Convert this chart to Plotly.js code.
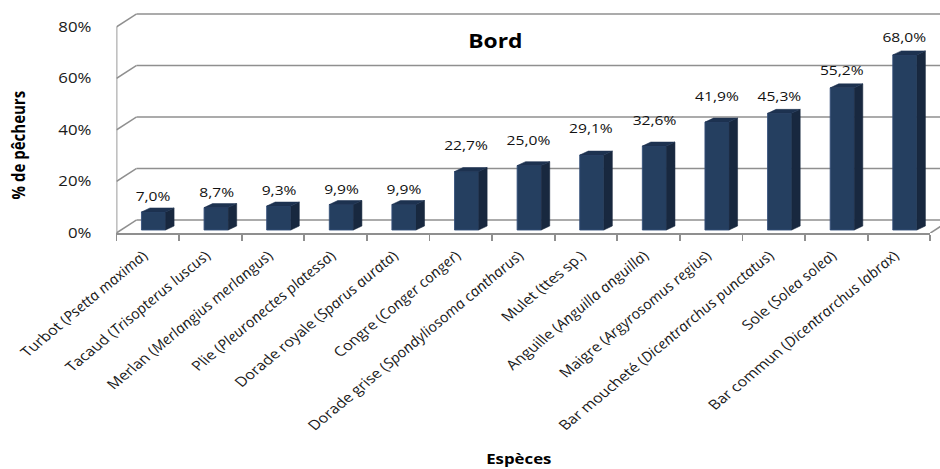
<!DOCTYPE html>
<html>
<head>
<meta charset="utf-8">
<script src="https://cdn.plot.ly/plotly-3.0.1.min.js"></script>
<style>
  html, body { margin: 0; padding: 0; background: #ffffff; overflow: hidden; }
  #chart { width: 783px; height: 469px; transform: scaleX(1.2005); transform-origin: 0 0; }
</style>
</head>
<body>
<div id="chart"></div>
<script>
// ---------- data ----------
const commonNames = ['Turbot', 'Tacaud', 'Merlan', 'Plie', 'Dorade royale', 'Congre',
  'Dorade grise', 'Mulet', 'Anguille', 'Maigre', 'Bar moucheté', 'Sole', 'Bar commun'];
const latinNames = ['Psetta maxima', 'Trisopterus luscus', 'Merlangius merlangus',
  'Pleuronectes platessa', 'Sparus aurata', 'Conger conger', 'Spondyliosoma cantharus',
  'ttes sp.', 'Anguilla anguilla', 'Argyrosomus regius', 'Dicentrarchus punctatus',
  'Solea solea', 'Dicentrarchus labrax'];
const values = [7.0, 8.7, 9.3, 9.9, 9.9, 22.7, 25.0, 29.1, 32.6, 41.9, 45.3, 55.2, 68.0];
const yTickVals = [0, 20, 40, 60, 80];
const yTickText = ['0%', '20%', '40%', '60%', '80%'];

// ---------- style (3D look, label lifts in px) ----------
const labelLift = [16, 16, 16, 16, 16, 27, 26, 27, 26, 26, 17, 18, 18];
const barOffset = 0.092, barWidth = 0.385, barBase = 1.165;
const depthX = 0.136, depthY = 1.55;      // bar depth
const wallX = 0.3195, wallY = 5.05;       // back wall offset
const nCat = values.length;
const gridColor = '#8f8f8f';
const FONT = 'Open Sans, sans-serif';

const idx = values.map((_, i) => i);
const tickText = commonNames.map((c, i) =>
  latinNames[i] === 'ttes sp.' ? c + ' (' + latinNames[i] + ')' : c + ' (<i>' + latinNames[i] + '</i>)');

// front faces
const frontFaces = {
  type: 'bar', x: idx.map(i => i + barOffset), y: values, base: barBase, width: barWidth,
  marker: { color: '#253f60', line: { width: 0.8, color: '#34507a' } },
  hoverinfo: 'skip', showlegend: false
};
// side and top faces derived from values
const sx = [], sy = [], tx = [], ty = [];
values.forEach((v, i) => {
  const xl = i + barOffset - barWidth / 2, xr = i + barOffset + barWidth / 2;
  const b = barBase, t = barBase + v;
  sx.push(xr, xr + depthX, xr + depthX, xr, xr, null);
  sy.push(b, b + depthY, t + depthY, t, b, null);
  tx.push(xl, xl + depthX, xr + depthX, xr, xl, null);
  ty.push(t, t + depthY, t + depthY, t, t, null);
});
const sideFaces = { type: 'scatter', mode: 'lines', x: sx, y: sy, fill: 'toself', fillcolor: '#18283f',
  line: { width: 0.5, color: '#18283f' }, hoverinfo: 'skip', showlegend: false };
const topFaces = { type: 'scatter', mode: 'lines', x: tx, y: ty, fill: 'toself', fillcolor: '#1d3250',
  line: { width: 0.5, color: '#1d3250' }, hoverinfo: 'skip', showlegend: false };

// wall / grid shapes
const shapes = [];
yTickVals.forEach(g => {
  shapes.push({ type: 'line', layer: 'below', xref: 'x', yref: 'y', x0: -0.5, y0: g, x1: -0.5 + wallX, y1: g + wallY,
    line: { color: gridColor, width: 1.5 } });
  shapes.push({ type: 'line', layer: 'below', xref: 'paper', yref: 'y', x0: wallX / nCat, y0: g + wallY, x1: 1.03, y1: g + wallY,
    line: { color: gridColor, width: 1.5 } });
});
shapes.push({ type: 'line', layer: 'below', xref: 'x', yref: 'y', x0: -0.5, y0: 0, x1: -0.5, y1: 80,
  line: { color: gridColor, width: 1.5 } });
shapes.push({ type: 'line', layer: 'below', xref: 'paper', yref: 'y', x0: 1, y0: 0, x1: 1 + wallX / nCat, y1: wallY,
  line: { color: gridColor, width: 1.5 } });

// annotations
const annotations = values.map((v, i) => ({
  xref: 'x', yref: 'y', x: i + barOffset, y: barBase + v, yshift: labelLift[i],
  text: v.toFixed(1).replace('.', ',') + '%', showarrow: false, xanchor: 'center', yanchor: 'middle',
  font: { family: FONT, size: 13, color: '#111111' }
}));
annotations.push({ xref: 'paper', yref: 'y', x: -0.1217, y: 34.2, textangle: -90,
  text: '<b>% de pêcheurs</b>', showarrow: false, xanchor: 'center', yanchor: 'middle',
  font: { family: FONT, size: 15, color: '#000000' } });
annotations.push({ xref: 'paper', yref: 'paper', x: 0.4934, y: -1.0103,
  text: '<b>Espèces</b>', showarrow: false, xanchor: 'center', yanchor: 'middle',
  font: { family: FONT, size: 14, color: '#000000' } });

const layout = {
  width: 783, height: 469,
  margin: { l: 97, r: 8, t: 10, b: 236, pad: 0 },
  paper_bgcolor: '#ffffff', plot_bgcolor: '#ffffff',
  title: { text: '<b>Bord</b>', x: 0.527, xanchor: 'center', y: 0.9115, yanchor: 'middle',
    font: { family: FONT, size: 19, color: '#000000' } },
  xaxis: {
    type: 'linear', range: [-0.5, nCat - 0.5], fixedrange: true,
    tickmode: 'array', tickvals: idx, ticktext: tickText, tickangle: -45, ticks: '',
    ticklabelshift: -4, ticklabelstandoff: 8,
    tickfont: { family: FONT, size: 13.5, color: '#1a1a1a' },
    showgrid: false, zeroline: false, showline: true, linecolor: gridColor, linewidth: 1.5,
    minor: { tickmode: 'array', tickvals: idx.concat([nCat]).map(i => i - 0.5), ticks: 'outside',
      ticklen: 6, tickwidth: 1.5, tickcolor: gridColor, showgrid: false }
  },
  yaxis: {
    range: [0, 86.6], fixedrange: true,
    tickmode: 'array', tickvals: yTickVals, ticktext: yTickText,
    ticks: 'outside', ticklen: 17, tickcolor: 'rgba(0,0,0,0)',
    tickfont: { family: FONT, size: 14, color: '#1a1a1a' },
    showgrid: false, zeroline: false, showline: false
  },
  shapes: shapes,
  annotations: annotations,
  showlegend: false,
  bargap: 0
};

Plotly.newPlot('chart', [frontFaces, sideFaces, topFaces], layout, { displayModeBar: false, staticPlot: true, responsive: false });
</script>
</body>
</html>
